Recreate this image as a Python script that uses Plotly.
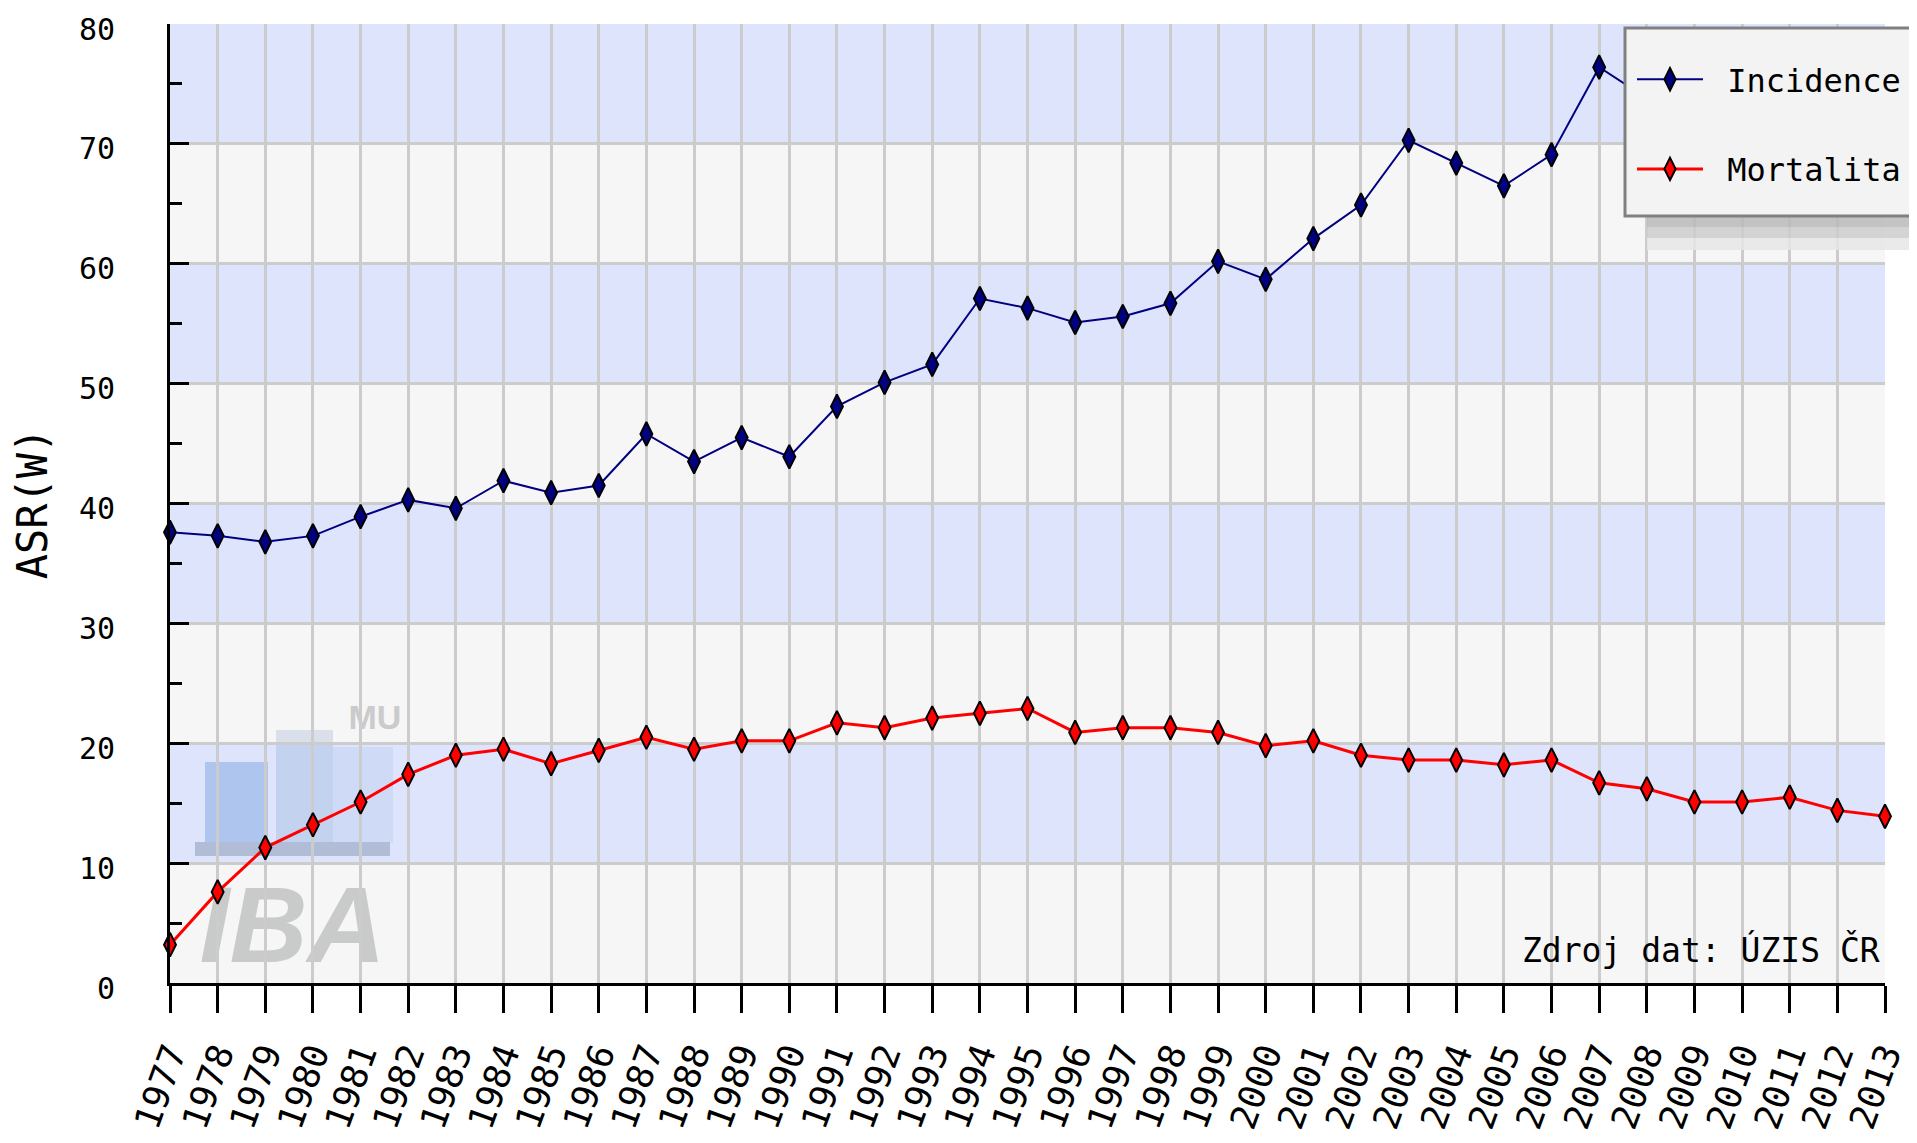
import plotly.graph_objects as go

years = list(range(1977, 2014))
year_labels = [str(y) for y in years]

incidence = [37.6, 37.3, 36.8, 37.3, 38.9, 40.3, 39.6, 41.9, 40.9, 41.5,
             45.8, 43.5, 45.5, 43.9, 48.1, 50.1, 51.6, 57.1, 56.3, 55.1,
             55.6, 56.7, 60.2, 58.7, 62.1, 64.9, 70.3, 68.4, 66.5, 69.1,
             76.4, 73.8, 74.5, 72.5, 74.0, 73.0, 72.0]

mortalita = [3.2, 7.6, 11.3, 13.2, 15.1, 17.4, 19.0, 19.5, 18.3, 19.4,
             20.5, 19.5, 20.2, 20.2, 21.7, 21.3, 22.1, 22.5, 22.9, 20.9,
             21.3, 21.3, 20.9, 19.8, 20.2, 19.0, 18.6, 18.6, 18.2, 18.6,
             16.7, 16.2, 15.1, 15.1, 15.5, 14.4, 13.9]

y_ticks = [0, 10, 20, 30, 40, 50, 60, 70, 80]
band_ranges = [(10, 20), (30, 40), (50, 60), (70, 80)]

series_names = ["Incidence", "Mortalita"]
series_colors = ["#000080", "#ff0000"]

# page offset (browser body margin)
OFF = 8
W, H = 1917 - OFF, 1143 - OFF
L, T = 170 - OFF, 24 - OFF
PLOT_R, PLOT_B = 1885 - OFF, 983 - OFF
R, B = W - PLOT_R, H - PLOT_B
PW, PH = PLOT_R - L, PLOT_B - T


def px_x(xw):
    return (xw - OFF - L) / PW


def px_y(yw):
    return (PLOT_B - (yw - OFF)) / PH


MONO = "DejaVu Sans Mono"

fig = go.Figure()

for name, vals, col, lw in zip(series_names, [incidence, mortalita], series_colors, [2, 3]):
    fig.add_trace(go.Scatter(
        x=years, y=vals, name=" " + name, mode="lines+markers",
        line=dict(color=col, width=lw),
        marker=dict(symbol="diamond-tall", size=17, color=col,
                    line=dict(color="black", width=2)),
        cliponaxis=False, legendgroup=name,
    ))

shapes = []
for lo, hi in band_ranges:
    shapes.append(dict(type="rect", xref="paper", yref="y", x0=0, x1=1, y0=lo, y1=hi,
                       fillcolor="#dde4fc", line=dict(width=0), layer="below"))


def prect(x0, y0, x1, y1, color, opacity=1.0, layer="below", line=None):
    return dict(type="rect", xref="paper", yref="paper",
                x0=px_x(x0), x1=px_x(x1), y0=px_y(y1), y1=px_y(y0),
                fillcolor=color, opacity=opacity,
                line=line if line else dict(width=0), layer=layer)


# watermark logo (decoration)
shapes += [
    prect(205, 762, 268, 843, "#aec6ee"),
    prect(276, 730, 333, 745, "#d9e0ea"),
    prect(276, 745, 333, 843, "#c2d2ef"),
    prect(333, 747, 393, 843, "#cfdaf6"),
    prect(195, 842, 390, 856, "#b1bcd6"),
]
iba = prect(205, 858, 380, 970, "rgba(0,0,0,0)")
iba["label"] = dict(text="<b><i>IBA</i></b>",
                    font=dict(family="Liberation Sans", size=108, color="#c9caca"),
                    textposition="middle center")
shapes.append(iba)
mu = prect(345, 692, 405, 735, "rgba(0,0,0,0)")
mu["label"] = dict(text="<b>MU</b>", font=dict(family="Liberation Sans", size=34, color="#cbcbcb"),
                   textposition="middle center")
shapes.append(mu)

# legend shadow and box
for (y0, y1, c) in [(216, 227, "#bababa"), (227, 238, "#cdcdcd"), (238, 250, "#e6e6e6")]:
    shapes.append(prect(1647, y0, 1940, y1, c, opacity=0.85, layer="above"))
shapes.append(prect(1625, 28, 1940, 216, "#f3f3f3", layer="above",
                    line=dict(color="#808080", width=3)))

fig.update_layout(
    width=W, height=H,
    margin=dict(l=L, r=R, t=T, b=B, autoexpand=False),
    paper_bgcolor="white", plot_bgcolor="#f6f6f6",
    shapes=shapes,
    showlegend=True,
    legend=dict(x=px_x(1632), y=px_y(52), xanchor="left", yanchor="top",
                bgcolor="rgba(0,0,0,0)", borderwidth=0,
                font=dict(family=MONO, size=32, color="black"),
                itemwidth=66, tracegroupgap=45),
    font=dict(family=MONO, color="black"),
    annotations=[dict(text="Zdroj dat: ÚZIS ČR", xref="paper", yref="paper",
                      x=px_x(1882), y=px_y(950), xanchor="right", yanchor="middle",
                      showarrow=False, font=dict(family=MONO, size=33, color="black"))],
)

fig.update_xaxes(
    range=[years[0], years[-1]], tickmode="array", tickvals=years, ticktext=year_labels,
    tickangle=-70, tickfont=dict(family=MONO, size=36, color="black"),
    showgrid=True, gridcolor="#cccccc", gridwidth=3,
    showline=True, linecolor="black", linewidth=3,
    ticks="outside", ticklen=27, tickwidth=3, tickcolor="black",
    zeroline=False, ticklabelstandoff=6, ticklabeloverflow="allow",
)
fig.update_yaxes(
    range=[0, 80], tickmode="array", tickvals=y_ticks, ticktext=[str(v) for v in y_ticks],
    tickfont=dict(family=MONO, size=30, color="black"),
    showgrid=True, gridcolor="#cccccc", gridwidth=3,
    showline=True, linecolor="black", linewidth=3,
    ticks="inside", ticklen=19, tickwidth=3, tickcolor="black",
    minor=dict(ticks="inside", ticklen=12, tickwidth=3, tickcolor="black", dtick=5, showgrid=False),
    zeroline=False, ticklabelstandoff=46, ticklabelshift=5, ticklabeloverflow="allow",
    title=dict(text="ASR(W)", font=dict(family=MONO, size=42, color="black"), standoff=32),
)

fig.write_html("out.html")
